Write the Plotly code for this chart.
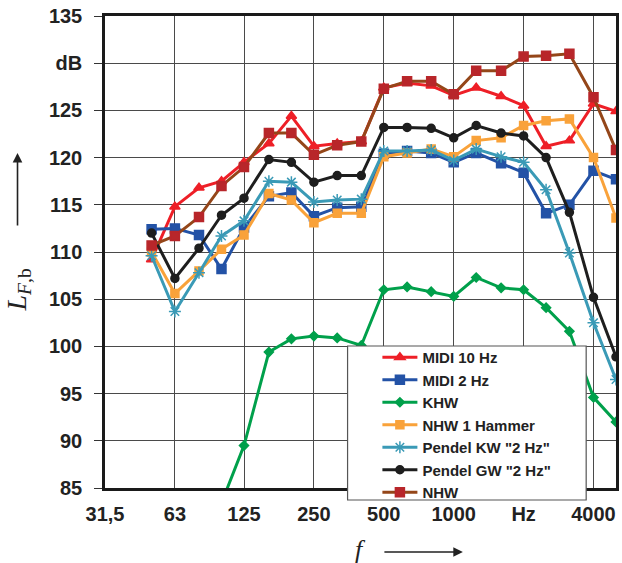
import plotly.graph_objects as go

freqs = [50, 63, 80, 100, 125, 160, 200, 250, 315, 400, 500, 630, 800, 1000,
         1250, 1600, 2000, 2500, 3150, 4000, 5000]

midi10 = [109.2, 114.8, 116.8, 117.5, 119.5, 121.5, 124.4, 121.2, 121.5, 121.7, 127.4,
          127.9, 127.6, 126.6, 127.4, 126.5, 125.5, 121.2, 121.8, 125.7, 124.9]
midi2 = [112.4, 112.5, 111.8, 108.2, 112.6, 115.9, 116.3, 113.8, 114.7, 114.8, 120.4,
         120.7, 120.5, 119.5, 120.5, 119.4, 118.4, 114.1, 115.0, 118.6, 117.7]
khw = [None, None, None, 83.4, 89.5, 99.4, 100.8, 101.1, 100.9, 100.1, 106.0,
       106.3, 105.8, 105.3, 107.3, 106.2, 106.0, 104.1, 101.6, 94.6, 92.0]
nhw1 = [110.0, 105.6, 108.0, 110.3, 111.8, 116.2, 115.5, 113.1, 114.1, 114.1, 120.1,
        120.5, 120.9, 120.1, 121.8, 122.1, 123.4, 123.9, 124.1, 120.0, 113.6]
pendel_kw = [109.6, 103.7, 107.8, 111.7, 113.3, 117.5, 117.4, 115.3, 115.5, 115.6, 120.7,
             120.7, 120.8, 119.7, 120.9, 120.1, 119.5, 116.6, 109.9, 102.5, 96.5]
pendel_gw = [112.0, 107.2, 110.4, 113.9, 115.7, 119.8, 119.5, 117.4, 118.1, 118.1, 123.2,
             123.2, 123.1, 122.1, 123.4, 122.6, 122.3, 120.0, 114.2, 105.2, 98.9]
nhw = [110.7, 111.7, 113.7, 117.0, 119.0, 122.6, 122.6, 120.3, 121.3, 121.7, 127.3,
       128.1, 128.1, 126.7, 129.2, 129.2, 130.7, 130.8, 131.0, 126.4, 120.8]

x_tickvals = [31.5, 63, 125, 250, 500, 1000, 2000, 4000]
x_ticktext = ["31,5", "63", "125", "250", "500", "1000", "Hz", "4000"]
y_tickvals = [85, 90, 95, 100, 105, 110, 115, 120, 125, 130, 135]
y_ticktext = ["85", "90", "95", "100", "105", "110", "115", "120", "125", "dB", "135"]

series = [
    ("MIDI 10 Hz", midi10, "#EE1F27", "#EE1F27", "triangle-up", 9),
    ("MIDI 2 Hz", midi2, "#2352A6", "#2352A6", "square", 9),
    ("KHW", khw, "#00A04B", "#00A04B", "diamond", 7),
    ("NHW 1 Hammer", nhw1, "#F9A23A", "#F9A23A", "square", 8),
    ("Pendel KW \"2 Hz\"", pendel_kw, "#3A9AB6", "#3A9AB6", "asterisk-open", 10),
    ("Pendel GW \"2 Hz\"", pendel_gw, "#1E1E1E", "#1E1E1E", "circle", 8),
    ("NHW", nhw, "#944619", "#B8262A", "square", 9),
]

fig = go.Figure()
for name, vals, lc, mc, sym, ms in series:
    fig.add_trace(go.Scatter(
        x=freqs, y=vals, name=name, mode="lines+markers",
        line=dict(color=lc, width=3),
        marker=dict(symbol=sym, size=ms, color=mc,
                    line=dict(color=mc, width=1.5)),
        connectgaps=False,
    ))

W, H = 622, 563
L, R, T, B = 105, 3, 16, 75
pw, ph = W - L - R, H - T - B

def px(xp):
    return (xp - L) / pw

def py(yp):
    return (H - B - yp) / ph

grid = "#4a4a4a"
fig.update_layout(
    width=W, height=H,
    margin=dict(l=L, r=R, t=T, b=B),
    paper_bgcolor="white", plot_bgcolor="white",
    showlegend=True,
    legend=dict(
        x=px(379), y=py(341), xanchor="left", yanchor="top",
        bgcolor="rgba(0,0,0,0)", borderwidth=0,
        font=dict(family="Liberation Sans", size=15, color="#222", weight="bold"),
        itemwidth=35,
    ),
    xaxis=dict(
        type="log", range=[1.49831, 3.69897],
        tickvals=x_tickvals, ticktext=x_ticktext,
        showgrid=True, gridcolor=grid, gridwidth=1.3,
        showline=True, linecolor="#1a1a1a", linewidth=2.5, mirror=True,
        ticks="", zeroline=False,
        tickfont=dict(family="Liberation Sans", size=20, color="#222", weight="bold"),
        ticklabelstandoff=6,
    ),
    yaxis=dict(
        range=[85, 135],
        tickvals=y_tickvals, ticktext=y_ticktext,
        showgrid=True, gridcolor=grid, gridwidth=1.3,
        showline=True, linecolor="#1a1a1a", linewidth=2.5, mirror=True,
        ticks="outside", ticklen=8, tickcolor="#333", tickwidth=1.3,
        zeroline=False,
        tickfont=dict(family="Liberation Sans", size=20, color="#222", weight="bold"),
        ticklabelstandoff=8,
    ),
    shapes=[dict(
        type="rect", xref="paper", yref="paper", layer="above",
        x0=px(349), x1=px(589), y0=py(500), y1=py(346),
        fillcolor="white", line=dict(color="#555", width=1.2),
    )],
    annotations=[
        dict(xref="paper", yref="paper", x=px(17), y=py(290),
             text="<i>L</i><sub><i>F</i>,b</sub>", showarrow=False, textangle=-90,
             font=dict(family="Liberation Serif", size=28, color="#222"),
             xanchor="center", yanchor="middle"),
        dict(xref="paper", yref="paper", x=px(17), y=py(153), text="",
             showarrow=True, ax=0, ay=74, arrowhead=2, arrowsize=1.2,
             arrowwidth=1.6, arrowcolor="#222", standoff=0, startstandoff=0),
        dict(xref="paper", yref="paper", x=px(362), y=py(549),
             text="<i>f</i>", showarrow=False,
             font=dict(family="Liberation Serif", size=26, color="#222"),
             xanchor="center", yanchor="middle"),
        dict(xref="paper", yref="paper", x=px(465), y=py(552), text="",
             showarrow=True, ax=-80, ay=0, arrowhead=2, arrowsize=1.2,
             arrowwidth=1.6, arrowcolor="#222", standoff=0, startstandoff=0),
    ],
)

fig.write_html("out.html")
